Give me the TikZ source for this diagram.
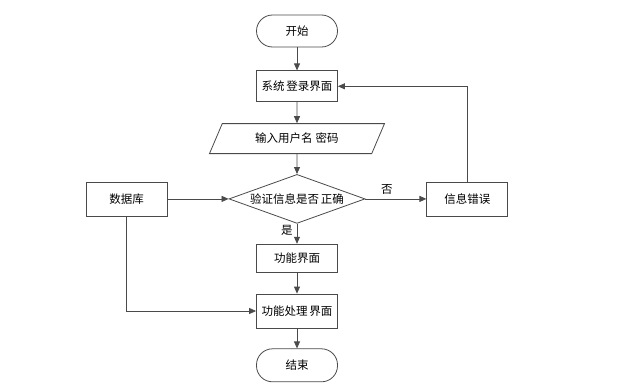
\documentclass[tikz,border=0pt]{standalone}
\usepackage{fontspec}
\setmainfont{Noto Sans CJK SC}
\usetikzlibrary{arrows.meta,positioning,shapes.geometric}
\definecolor{linegray}{HTML}{4A4A4A}

\begin{document}
\begin{tikzpicture}[
  x=1pt,y=1pt,
  font=\fontsize{11.5}{13}\selectfont,
  proc/.style={draw=linegray,line width=.8pt,minimum width=81pt,minimum height=34pt,inner sep=2pt},
  term/.style={proc,minimum height=32pt,rounded corners=16pt},
  io/.style={draw=linegray,line width=.8pt,trapezium,trapezium left angle=45,trapezium right angle=135,
    trapezium stretches body,minimum width=175pt,minimum height=30pt,inner sep=1pt},
  test/.style={draw=linegray,line width=.8pt,diamond,aspect=2.78,inner sep=0pt,minimum width=136pt,minimum height=49pt},
  flow/.style={-{Triangle[length=7pt,width=6pt]},draw=linegray,line width=.8pt}
]
\useasboundingbox (0,0) rectangle (623,-383);
\node[term] (start) at (297,-31) {开始};
\node[proc,minimum height=31pt,below=23pt of start] (login) {系统\hspace{2pt}登录界面};
\node[io,below=21pt of login] (input) {输入用户名\hspace{3pt}密码};
\node[test,below=20pt of input] (check) {验证信息是否\hspace{2pt}正确};
\node[proc,left=61pt of check] (db) {数据库};
\node[proc,right=61pt of check] (err) {信息错误};
\node[proc,minimum height=28pt,below=20pt of check] (func) {功能界面};
\node[proc,below=21pt of func] (work) {功能处理\hspace{2pt}界面};
\node[term,minimum height=33pt,below=20pt of work] (stop) {结束};

\draw[flow] (start) -- (login);
\draw[flow] (login) -- (input);
\draw[flow] (input) -- (check);
\draw[flow] (check) -- node[pos=.35,left,inner sep=4pt]{是} (func);
\draw[flow] (func) -- (work);
\draw[flow] (work) -- (stop);
\draw[flow] (db) -- (check);
\draw[flow] (check) -- node[pos=.35,above,inner sep=4pt]{否} (err);
\draw[flow] (err.north) |- (login.east);
\draw[flow] (db.south) |- (work.west);
\end{tikzpicture}
\end{document}
